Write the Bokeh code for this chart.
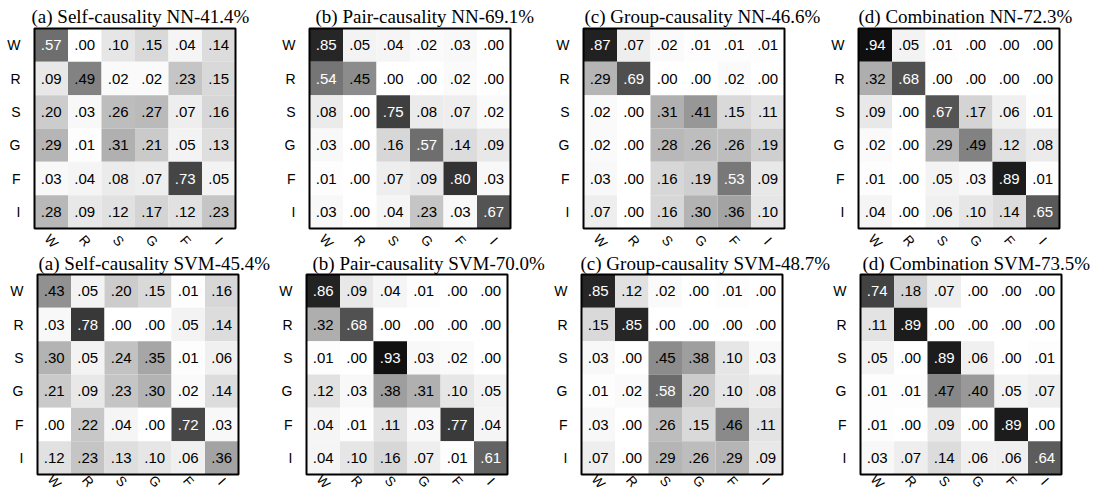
from bokeh.plotting import figure
from bokeh.layouts import column, row
from bokeh.models import ColumnDataSource, Range1d, LinearColorMapper, FixedTicker
from bokeh.transform import transform
from bokeh.core.properties import value
from bokeh.embed import file_html
from bokeh.resources import INLINE

classes = ["W", "R", "S", "G", "F", "I"]

self_nn = [[.57, .00, .10, .15, .04, .14],
           [.09, .49, .02, .02, .23, .15],
           [.20, .03, .26, .27, .07, .16],
           [.29, .01, .31, .21, .05, .13],
           [.03, .04, .08, .07, .73, .05],
           [.28, .09, .12, .17, .12, .23]]
pair_nn = [[.85, .05, .04, .02, .03, .00],
           [.54, .45, .00, .00, .02, .00],
           [.08, .00, .75, .08, .07, .02],
           [.03, .00, .16, .57, .14, .09],
           [.01, .00, .07, .09, .80, .03],
           [.03, .00, .04, .23, .03, .67]]
group_nn = [[.87, .07, .02, .01, .01, .01],
            [.29, .69, .00, .00, .02, .00],
            [.02, .00, .31, .41, .15, .11],
            [.02, .00, .28, .26, .26, .19],
            [.03, .00, .16, .19, .53, .09],
            [.07, .00, .16, .30, .36, .10]]
comb_nn = [[.94, .05, .01, .00, .00, .00],
           [.32, .68, .00, .00, .00, .00],
           [.09, .00, .67, .17, .06, .01],
           [.02, .00, .29, .49, .12, .08],
           [.01, .00, .05, .03, .89, .01],
           [.04, .00, .06, .10, .14, .65]]
self_svm = [[.43, .05, .20, .15, .01, .16],
            [.03, .78, .00, .00, .05, .14],
            [.30, .05, .24, .35, .01, .06],
            [.21, .09, .23, .30, .02, .14],
            [.00, .22, .04, .00, .72, .03],
            [.12, .23, .13, .10, .06, .36]]
pair_svm = [[.86, .09, .04, .01, .00, .00],
            [.32, .68, .00, .00, .00, .00],
            [.01, .00, .93, .03, .02, .00],
            [.12, .03, .38, .31, .10, .05],
            [.04, .01, .11, .03, .77, .04],
            [.04, .10, .16, .07, .01, .61]]
group_svm = [[.85, .12, .02, .00, .01, .00],
             [.15, .85, .00, .00, .00, .00],
             [.03, .00, .45, .38, .10, .03],
             [.01, .02, .58, .20, .10, .08],
             [.03, .00, .26, .15, .46, .11],
             [.07, .00, .29, .26, .29, .09]]
comb_svm = [[.74, .18, .07, .00, .00, .00],
            [.11, .89, .00, .00, .00, .00],
            [.05, .00, .89, .06, .00, .01],
            [.01, .01, .47, .40, .05, .07],
            [.01, .00, .09, .00, .89, .00],
            [.03, .07, .14, .06, .06, .64]]

titles_top = ["(a) Self-causality NN-41.4%", "(b) Pair-causality NN-69.1%",
              "(c) Group-causality NN-46.6%", "(d) Combination NN-72.3%"]
titles_bottom = ["(a) Self-causality SVM-45.4%", "(b) Pair-causality SVM-70.0%",
                 "(c) Group-causality SVM-48.7%", "(d) Combination SVM-73.5%"]

grays = ["#%02x%02x%02x" % (g, g, g) for g in range(255, -1, -1)]
mapper = LinearColorMapper(palette=grays, low=0, high=1)

N = len(classes)
MAT_W, MAT_H = 201.0, 200.0
UX, UY = MAT_W / N, MAT_H / N      # pixels per cell
PAD_L = 8                          # frame space left of matrix (px)


def make(mat, title, fig_w, L, top_px, lab_px, lab_gap, t_off, t_gap):
    xs, ys, vs, txt, tc = [], [], [], [], []
    for i in range(N):
        for j in range(N):
            v = mat[i][j]
            xs.append(j + 0.5)
            ys.append(N - 0.5 - i)
            vs.append(v)
            txt.append(("%.2f" % v)[1:])
            tc.append("white" if v >= 0.5 else "black")
    src = ColumnDataSource(dict(x=xs, y=ys, v=vs, t=txt, tc=tc))
    fw = fig_w - L
    fh = top_px + MAT_H + lab_px
    p = figure(x_range=Range1d(-PAD_L / UX, (fw - PAD_L) / UX),
               y_range=Range1d(-lab_px / UY, N + top_px / UY),
               frame_width=int(fw), frame_height=int(fh),
               min_border_left=L, min_border_right=0,
               min_border_top=0, min_border_bottom=0,
               title=None, output_backend="svg", toolbar_location=None, tools="")
    p.rect(x="x", y="y", width=1, height=1, source=src,
           fill_color=transform("v", mapper), line_color=None)
    p.text(x="x", y="y", text="t", source=src, text_align="center",
           text_baseline="middle", text_color="tc",
           text_font=value("Liberation Sans"), text_font_size="15px")
    p.quad(left=[0], right=[N], bottom=[0], top=[N], fill_color=None,
           line_color="black", line_width=2)
    # column labels (predicted class), rotated clockwise
    p.text(x=[j + 0.5 for j in range(N)], y=[-lab_gap / UY] * N, text=classes,
           angle=-0.85, text_align="center", text_baseline="middle",
           text_color="black", text_font=value("Liberation Sans"),
           text_font_size="13.5px")
    # panel title
    p.text(x=[t_off / UX], y=[N + t_gap / UY], text=[title],
           text_align="left", text_baseline="alphabetic", text_color="black",
           text_font=value("Liberation Serif"), text_font_size="19px")
    p.outline_line_color = None
    p.grid.visible = False
    p.xaxis.visible = False
    ya = p.yaxis[0]
    ya.ticker = FixedTicker(ticks=[N - 0.5 - i for i in range(N)])
    ya.major_label_overrides = {N - 0.5 - i: c for i, c in enumerate(classes)}
    ya.axis_line_color = None
    ya.major_tick_line_color = None
    ya.minor_tick_line_color = None
    ya.major_label_text_font = "Liberation Sans"
    ya.major_label_text_font_size = "14px"
    ya.major_label_text_color = "black"
    ya.major_label_standoff = 0
    p.background_fill_color = "white"
    p.border_fill_color = "white"
    return p


top_mats = [self_nn, pair_nn, group_nn, comb_nn]
bot_mats = [self_svm, pair_svm, group_svm, comb_svm]

top_w = [279, 270, 271, 276]
top_L = [26, 18, 18, 18]
top_off = [-3, 6, 1, 0]
bot_w = [276, 271, 275, 274]
bot_L = [29, 18, 18, 14]
bot_off = [1, 6, -1, 2]

top = [make(m, t, w, L, 28, 23, 12.5, o, 12) for m, t, w, L, o in
       zip(top_mats, titles_top, top_w, top_L, top_off)]
bot = [make(m, t, w, L, 23, 17, 7, o, 11) for m, t, w, L, o in
       zip(bot_mats, titles_bottom, bot_w, bot_L, bot_off)]

layout = column(row(*top), row(*bot))
open("out.html", "w").write(file_html(layout, INLINE))
